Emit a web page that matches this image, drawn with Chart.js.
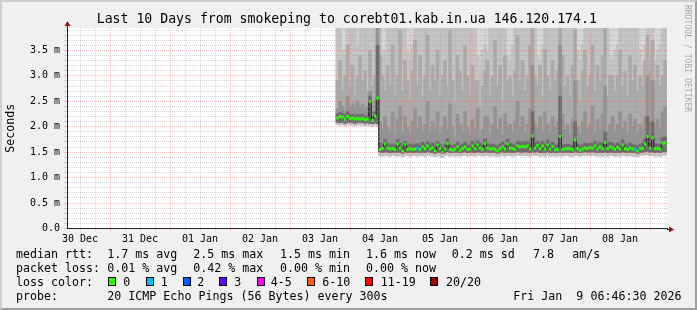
<!DOCTYPE html>
<html><head><meta charset="utf-8"><title>smokeping</title>
<script src="https://cdn.jsdelivr.net/npm/chart.js@4.4.1/dist/chart.umd.min.js"></script>
<style>
html,body{margin:0;padding:0;background:#f0f0f0;width:697px;height:310px;overflow:hidden;}
#wrap{position:relative;width:697px;height:310px;}
#c{position:absolute;left:0;top:0;}
#frame{position:absolute;left:0;top:0;width:697px;height:310px;box-sizing:border-box;border-style:solid;border-width:2px;border-color:#cfcfcf #9e9e9e #9e9e9e #cfcfcf;pointer-events:none;}
.tx{position:absolute;font-family:"DejaVu Sans Mono",monospace;color:#000;white-space:pre;}
.lg{font-size:11.65px;line-height:14px;}
.sw{position:absolute;width:8px;height:9px;box-sizing:border-box;border:1px solid #000;}
#title{font-size:13.2px;line-height:16px;}
#wm{position:absolute;left:683px;top:5px;font-family:"DejaVu Sans Mono",monospace;font-size:8.1px;color:#a8a8a8;writing-mode:vertical-rl;white-space:pre;line-height:10px;}
</style></head>
<body><div id="wrap"><canvas id="c" width="697" height="310"></canvas><div id="frame"></div></div>
<script>
// ---------------- data (hours after 30 Dec 00:00 local) ----------------
const viewStartHour = 6.775;    // 30 Dec 06:46:30
const viewEndHour = 246.775;    // 09 Jan 06:46:30
const sampleStartHour = 115;    // first hourly sample (03 Jan 19:00)

const medianRtt = [
 2.17,2.20,2.19,2.15,2.20,2.16,2.17,2.15,2.16,2.15,
 2.16,2.14,2.15,2.49,2.12,2.21,2.56,1.55,1.57,1.66,
 1.58,1.56,1.57,1.55,1.66,1.58,1.53,1.65,1.55,1.57,
 1.55,1.56,1.57,1.55,1.60,1.57,1.62,1.56,1.58,1.53,
 1.64,1.57,1.50,1.56,1.67,1.55,1.54,1.56,1.60,1.54,
 1.57,1.60,1.55,1.56,1.62,1.57,1.64,1.58,1.55,1.67,
 1.58,1.56,1.57,1.55,1.53,1.57,1.60,1.56,1.66,1.58,
 1.57,1.55,1.62,1.60,1.61,1.60,1.62,1.56,1.82,1.58,
 1.63,1.57,1.62,1.56,1.64,1.56,1.61,1.55,1.55,1.81,
 1.55,1.56,1.57,1.56,1.55,1.74,1.57,1.54,1.56,1.58,
 1.57,1.59,1.58,1.62,1.56,1.60,1.57,1.69,1.57,1.60,
 1.58,1.55,1.59,1.56,1.64,1.57,1.55,1.58,1.56,1.55,
 1.53,1.57,1.58,1.66,1.81,1.58,1.78,1.57,1.57,1.56,
 1.68,1.68];

const smokeMin = [
 2.04,2.03,2.04,2.02,2.04,2.03,2.03,2.02,2.04,2.03,
 2.03,2.02,2.03,2.02,2.01,2.04,2.00,1.43,1.42,1.44,
 1.43,1.42,1.44,1.43,1.42,1.43,1.41,1.44,1.43,1.42,
 1.43,1.44,1.42,1.43,1.43,1.42,1.44,1.43,1.42,1.41,
 1.43,1.42,1.40,1.43,1.44,1.42,1.43,1.42,1.43,1.42,
 1.43,1.44,1.42,1.43,1.43,1.42,1.44,1.43,1.42,1.44,
 1.43,1.42,1.43,1.42,1.41,1.43,1.44,1.42,1.43,1.43,
 1.42,1.43,1.44,1.43,1.43,1.44,1.43,1.42,1.44,1.43,
 1.44,1.42,1.43,1.42,1.44,1.42,1.43,1.42,1.42,1.43,
 1.42,1.43,1.43,1.42,1.42,1.44,1.43,1.42,1.43,1.44,
 1.43,1.43,1.44,1.43,1.42,1.43,1.42,1.44,1.42,1.43,
 1.43,1.42,1.43,1.42,1.44,1.43,1.42,1.43,1.42,1.42,
 1.41,1.43,1.43,1.44,1.45,1.43,1.44,1.42,1.43,1.42,
 1.44,1.44];

const smokeLow = [
 2.09,2.08,2.09,2.07,2.09,2.08,2.08,2.07,2.09,2.08,
 2.08,2.07,2.08,2.07,2.06,2.09,2.06,1.50,1.49,1.51,
 1.50,1.49,1.50,1.49,1.50,1.50,1.48,1.51,1.49,1.50,
 1.49,1.50,1.50,1.49,1.50,1.49,1.51,1.50,1.49,1.48,
 1.50,1.49,1.47,1.49,1.51,1.49,1.49,1.50,1.50,1.49,
 1.50,1.51,1.49,1.50,1.50,1.49,1.51,1.50,1.49,1.51,
 1.50,1.49,1.50,1.49,1.48,1.50,1.51,1.49,1.50,1.50,
 1.49,1.50,1.51,1.50,1.50,1.51,1.50,1.49,1.52,1.50,
 1.51,1.49,1.50,1.49,1.51,1.49,1.50,1.49,1.49,1.51,
 1.49,1.50,1.50,1.49,1.49,1.52,1.50,1.49,1.50,1.51,
 1.50,1.50,1.51,1.50,1.49,1.50,1.49,1.51,1.49,1.50,
 1.50,1.49,1.50,1.49,1.51,1.50,1.49,1.50,1.49,1.49,
 1.48,1.50,1.50,1.51,1.52,1.50,1.51,1.49,1.50,1.49,
 1.51,1.51];

const smokeUpperA = [
 4.2,4.2,3.5,3.4,4.2,4.2,4.2,4.2,3.6,4.2,
 4.2,4.2,4.2,4.2,4.2,4.2,4.2,4.2,3.4,3.5,
 4.2,4.2,4.2,4.2,4.2,4.2,4.2,4.2,3.5,3.3,
 3.6,4.2,4.2,4.2,4.2,4.2,4.2,4.2,4.2,4.2,
 4.2,4.2,4.2,4.2,4.2,4.2,4.2,4.2,4.2,4.2,
 4.2,4.2,4.2,4.2,4.2,4.2,3.4,3.2,3.5,3.6,
 3.5,4.2,4.2,4.2,4.2,4.2,4.2,4.2,3.4,3.3,
 3.6,4.2,4.2,4.2,4.2,4.2,4.2,4.2,4.2,4.2,
 3.4,3.3,3.6,4.2,4.2,4.2,4.2,4.2,4.2,4.2,
 4.2,4.2,4.2,4.2,4.2,4.2,3.5,3.3,3.6,4.2,
 4.2,4.2,4.2,4.2,4.2,4.2,4.2,4.2,4.2,3.4,
 3.3,3.5,3.6,4.2,4.2,4.2,4.2,4.2,4.2,4.2,
 4.2,3.5,3.2,3.6,4.2,3.4,4.2,3.3,3.5,3.6,
 4.2,4.2];

const smokeUpperB = [
 2.9,3.3,2.7,3.0,3.6,2.8,3.2,2.6,3.0,3.4,
 2.9,3.1,2.7,3.5,2.8,3.0,4.2,3.4,3.0,2.7,
 3.2,2.8,3.6,2.6,3.0,3.9,2.7,3.3,2.9,2.5,
 3.1,3.7,2.8,3.4,2.6,3.0,3.8,2.7,3.2,2.9,
 3.5,2.6,3.0,3.3,2.8,3.9,2.9,2.5,3.4,3.1,
 2.7,3.6,3.0,2.6,3.2,2.9,2.9,2.4,2.8,3.1,
 3.3,2.6,3.0,3.7,2.8,3.2,2.5,3.4,2.9,3.0,
 2.6,3.1,3.8,2.9,3.3,2.7,3.0,3.6,4.2,3.0,
 2.8,3.2,2.6,3.5,3.0,2.7,3.3,2.9,3.1,4.2,
 3.4,2.8,3.0,2.6,3.2,3.9,2.9,2.5,3.1,3.5,
 2.8,3.0,3.6,2.7,3.2,2.9,3.4,4.0,2.6,3.0,
 3.0,2.7,3.0,3.5,2.8,3.1,2.6,3.4,2.9,3.2,
 2.7,3.0,2.8,3.3,3.8,3.1,3.7,2.9,3.2,2.8,
 3.0,3.3];

const smokeUpperC = [
 2.35,2.50,2.40,2.30,2.60,2.40,2.45,2.35,2.50,2.40,
 2.45,2.35,2.40,2.70,2.30,2.50,4.20,2.10,1.95,2.20,
 2.00,1.90,2.30,1.85,2.15,2.40,1.90,2.20,2.00,1.85,
 2.10,2.35,1.95,2.20,1.90,2.05,2.50,1.90,2.10,1.95,
 2.30,1.85,2.00,2.20,1.95,2.45,2.00,1.80,2.25,2.05,
 1.90,2.30,2.00,1.85,2.15,1.95,2.35,1.80,1.95,2.20,
 2.20,1.85,2.05,2.40,1.95,2.15,1.85,2.25,2.00,2.05,
 1.90,2.10,2.50,2.00,2.20,1.90,2.05,2.35,3.20,2.05,
 1.95,2.20,1.90,2.30,2.05,1.90,2.20,2.00,2.10,3.60,
 2.25,1.95,2.05,1.85,2.15,2.90,2.00,1.85,2.10,2.30,
 1.95,2.05,2.40,1.90,2.15,2.00,2.25,2.80,1.90,2.05,
 2.20,1.90,2.05,2.30,1.95,2.10,1.85,2.25,2.00,2.15,
 1.90,2.05,1.95,2.20,3.00,2.10,2.90,2.00,2.15,1.95,
 2.30,2.40];

const smokeUpperD = [
 2.25,2.28,2.26,2.22,2.30,2.24,2.25,2.22,2.24,2.23,
 2.24,2.21,2.22,2.60,2.20,2.30,3.60,1.68,1.66,1.74,
 1.67,1.64,1.66,1.63,1.74,1.68,1.62,1.72,1.64,1.66,
 1.64,1.66,1.67,1.64,1.70,1.66,1.71,1.65,1.68,1.62,
 1.72,1.66,1.60,1.65,1.76,1.64,1.63,1.65,1.70,1.63,
 1.66,1.70,1.64,1.65,1.72,1.66,1.73,1.68,1.64,1.76,
 1.67,1.65,1.66,1.64,1.62,1.66,1.70,1.65,1.75,1.68,
 1.66,1.64,1.72,1.70,1.71,1.70,1.72,1.66,2.30,1.68,
 1.72,1.66,1.72,1.65,1.74,1.65,1.70,1.64,1.64,2.60,
 1.64,1.65,1.66,1.65,1.64,2.10,1.66,1.63,1.65,1.68,
 1.66,1.68,1.67,1.72,1.65,1.70,1.66,1.90,1.66,1.70,
 1.68,1.64,1.69,1.65,1.74,1.66,1.64,1.68,1.65,1.64,
 1.62,1.66,1.68,1.75,2.20,1.68,2.10,1.66,1.66,1.65,
 1.78,1.80];

const lossHours = [147, 234];      // samples with packet loss
const lossPings = [1, 1];

const lossColors = ['#26ff00','#00b8ff','#0059ff','#5e00ff','#ff00ff','#ff5e00','#ff0000','#a10000'];
const lossLabels = ['0','1','2','3','4-5','6-10','11-19','20/20'];

const dayLabels = ['30 Dec','31 Dec','01 Jan','02 Jan','03 Jan','04 Jan','05 Jan','06 Jan','07 Jan','08 Jan'];
const dayLabelHours = [12,36,60,84,108,132,156,180,204,228];
const yTickValues = [0,0.5,1,1.5,2,2.5,3,3.5];
const yTickLabels = ['0.0','0.5 m','1.0 m','1.5 m','2.0 m','2.5 m','3.0 m','3.5 m'];
const yAxisMax = 3.94;

// ---------------- build ----------------
const hours = medianRtt.map((_, i) => sampleStartHour + i);
function lossIndex(h){
  const k = lossHours.indexOf(h);
  if (k < 0) return 0;
  const p = lossPings[k];
  if (p <= 3) return p;
  if (p <= 5) return 4;
  if (p <= 10) return 5;
  if (p <= 19) return 6;
  return 7;
}
const band = (lo, hi) => hours.map((h, i) => ({x: h, y: [lo[i], hi ? hi[i] : yAxisMax]}));
const barCommon = {type:'bar', grouped:false, barThickness:3, borderWidth:0, clip:0};

const MAJOR = 'rgba(240,90,90,0.38)';
const MINOR = 'rgba(150,150,150,0.38)';

const plotBg = {
  id:'plotBg',
  beforeDraw(ch){
    const a = ch.chartArea, c = ch.ctx;
    c.save(); c.fillStyle = '#ffffff'; c.fillRect(a.left, a.top, a.right-a.left, a.bottom-a.top); c.restore();
  },
  afterDraw(ch){
    const a = ch.chartArea, c = ch.ctx;
    c.save();
    c.strokeStyle = '#222'; c.lineWidth = 1;
    c.beginPath(); c.moveTo(a.left+0.5, a.top); c.lineTo(a.left+0.5, a.top-3); c.stroke();
    c.beginPath(); c.moveTo(a.right, Math.round(a.bottom)+0.5); c.lineTo(a.right+3, Math.round(a.bottom)+0.5); c.stroke();
    c.fillStyle = '#a01010';
    c.beginPath(); c.moveTo(a.left+0.5, a.top-7); c.lineTo(a.left-2.5, a.top-2); c.lineTo(a.left+3.5, a.top-2); c.closePath(); c.fill();
    const yb = Math.round(a.bottom)+0.5;
    c.beginPath(); c.moveTo(a.right+7, yb); c.lineTo(a.right+2, yb-3); c.lineTo(a.right+2, yb+3); c.closePath(); c.fill();
    c.restore();
  }
};

const isMajorY = v => Math.abs(v*2 - Math.round(v*2)) < 1e-6;

new Chart(document.getElementById('c'), {
  type:'bar',
  data:{ datasets:[
    {type:'line', data: hours.map((h,i)=>({x:h, y:medianRtt[i]})), showLine:false, pointStyle:'line',
     pointRadius:1.3, pointBorderWidth:3, pointHoverRadius:1.3,
     pointBorderColor: ctx => lossColors[lossIndex(ctx.raw ? ctx.raw.x : 0)], clip:0},
    {type:'line', data: hours.map((h,i)=>({x:h, y:medianRtt[i]})), stepped:'middle', borderColor:'#1c1c1c', borderWidth:1, pointRadius:0, fill:false, clip:0},
    Object.assign({data: band(smokeLow, smokeUpperD), backgroundColor:'#6c6c6c'}, barCommon),
    Object.assign({data: band(smokeLow, smokeUpperC), backgroundColor:'#939393'}, barCommon),
    Object.assign({data: band(smokeLow, smokeUpperB), backgroundColor:'#ababab'}, barCommon),
    Object.assign({data: band(smokeMin, smokeUpperA), backgroundColor:'#c3c3c3'}, barCommon),
    Object.assign({data: band(smokeMin, null), backgroundColor:'#d6d6d6'}, barCommon)
  ]},
  options:{
    responsive:false, animation:false, events:[],
    layout:{padding:{left:0, right:30, top:28, bottom:0}},
    plugins:{legend:{display:false}, tooltip:{enabled:false}, title:{display:false}},
    scales:{
      x:{type:'linear', min:viewStartHour, max:viewEndHour, offset:false,
        afterBuildTicks: s => { const t=[]; for (let h=12; h<=viewEndHour; h+=6) t.push({value:h}); s.ticks = t; },
        afterFit: s => { s.height = 310 - 228.5; },
        grid:{offset:false, z:1, lineWidth:1, tickLength:2,
          color: c => (c.tick && c.tick.value % 24 === 0) ? MAJOR : MINOR,
          tickColor: c => (c.tick && c.tick.value % 24 === 0) ? MAJOR : MINOR},
        border:{display:true, color:'#222', width:1, dash:[1,1], z:1},
        ticks:{autoSkip:false, maxRotation:0, minRotation:0, padding:3, color:'#000',
          font:{family:'DejaVu Sans Mono', size:10},
          callback: v => { const k = dayLabelHours.indexOf(v); return k >= 0 ? dayLabels[k] : ''; }}
      },
      y:{min:0, max:yAxisMax,
        afterBuildTicks: s => { const t=[]; for (let k=0; k<=39; k++) t.push({value:k/10}); s.ticks = t; },
        afterFit: s => { s.width = 67; },
        grid:{z:1, lineWidth:1, tickLength:3,
          color: c => (!c.tick || c.tick.value === 0) ? 'rgba(0,0,0,0)' : (isMajorY(c.tick.value) ? MAJOR : MINOR),
          tickColor: c => (c.tick && isMajorY(c.tick.value)) ? MAJOR : MINOR},
        border:{display:true, color:'#222', width:1, dash:[1,1], z:1},
        title:{display:true, text:'Seconds', color:'#000', font:{family:'DejaVu Sans Mono', size:11.6}, padding:{top:4, bottom:0}},
        ticks:{autoSkip:false, padding:4, color:'#000', font:{family:'DejaVu Sans Mono', size:10},
          callback: v => { const k = yTickValues.findIndex(t => Math.abs(t - v) < 1e-6); return k >= 0 ? yTickLabels[k] : ''; }}
      }
    }
  },
  plugins:[plotBg]
});

// ---------------- text blocks ----------------
const wrap = document.getElementById('wrap');
function addText(cls, x, top, str, id){
  const d = document.createElement('div');
  d.className = 'tx ' + cls; d.style.left = x + 'px'; d.style.top = top + 'px'; d.textContent = str;
  if (id) d.id = id;
  wrap.appendChild(d); return d;
}
addText('', 96.7, 11.1, 'Last 10 Days from smokeping to corebt01.kab.in.ua 146.120.174.1', 'title');

const legendRows = [
  {base:258.3, items:[[16,'median rtt:'],[107.3,'1.7 ms avg'],[193.3,'2.5 ms max'],[280,'1.5 ms min'],[366,'1.6 ms now'],[451.7,'0.2 ms sd'],[533,'7.8'],[572.3,'am/s']]},
  {base:272.3, items:[[16,'packet loss:'],[107.3,'0.01 % avg'],[193.3,'0.42 % max'],[280,'0.00 % min'],[366,'0.00 % now']]},
  {base:286.3, items:[[16,'loss color:']]},
  {base:300.3, items:[[16,'probe:'],[107.3,'20 ICMP Echo Pings (56 Bytes) every 300s'],[513.3,'Fri Jan  9 06:46:30 2026']]}
];
legendRows.forEach(r => r.items.forEach(it => addText('lg', it[0], r.base - 11, it[1])));

const swatchX = [108.3,145.7,182.7,219.3,256.7,307.3,365,430];
const swatchLabelX = [123.3,160.7,197.3,234.3,270.7,322.3,380.7,446];
lossLabels.forEach((lab, i) => {
  const s = document.createElement('div');
  s.className = 'sw'; s.style.left = swatchX[i] + 'px'; s.style.top = '277px'; s.style.background = lossColors[i];
  wrap.appendChild(s);
  addText('lg', swatchLabelX[i], 286.3 - 11, lab);
});

const wm = document.createElement('div');
wm.id = 'wm'; wm.textContent = 'RRDTOOL / TOBI OETIKER';
wrap.appendChild(wm);
</script>
</body></html>
